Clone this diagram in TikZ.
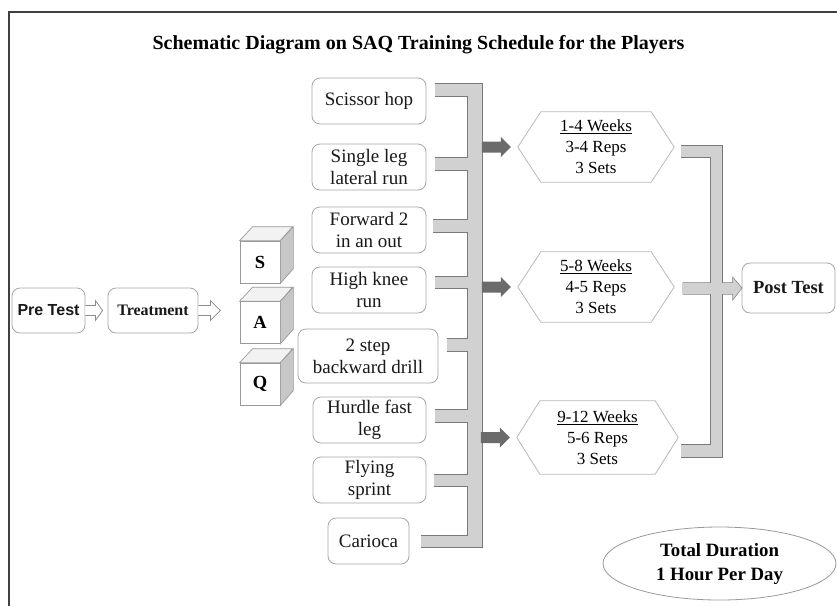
\documentclass[tikz,border=0pt]{standalone}
\usepackage{fontspec}
\setmainfont{Liberation Serif}
\newfontfamily\arialfont{Liberation Sans}
\usetikzlibrary{calc,shapes.geometric}
\tikzset{
  frameline/.style={draw=black!75, line width=1.3pt},
  titletext/.style={font=\bfseries\fontsize{20}{23}\selectfont, inner sep=0pt},
  box/.style={draw=black!35, line width=0.8pt, rounded corners=8pt, fill=white, align=center, inner sep=0pt, text=black!90, font=\fontsize{19}{22}\selectfont},
  boldbox/.style={box, font=\bfseries\fontsize{16}{19}\selectfont},
  cubefront/.style={draw=black!40, line width=0.7pt, fill=white, minimum width=40pt, minimum height=42pt, inner sep=0pt, font=\bfseries\fontsize{18.5}{21}\selectfont},
  cubetop/.style={draw=black!40, line width=0.7pt, fill=black!5},
  cubeside/.style={draw=black!40, line width=0.7pt, fill=black!22},
  hollowarrow/.style={draw=black!45, line width=0.8pt, fill=white},
  bracketout/.style={draw=black!52, line width=1.3pt},
  bracketin/.style={fill=black!18},
  darkarrow/.style={fill=black!58},
  hexnode/.style={inner sep=0pt, align=center, minimum height=70pt, font=\fontsize{17}{21}\selectfont},
  hexline/.style={draw=black!28, line width=0.8pt},
  durnode/.style={ellipse, draw=black!40, line width=0.8pt, inner sep=0pt, minimum width=233pt, minimum height=73pt, align=center, font=\bfseries\fontsize{18.8}{24}\selectfont}
}
\begin{document}
\begin{tikzpicture}[x=1pt,y=-1pt]
\useasboundingbox (0,0) rectangle (837,606);
\draw[frameline] (9,606) -- (9,12) -- (837,12);
\node[titletext] (title) at (418.5,45) {Schematic Diagram on SAQ Training Schedule for the Players};

% Pre test and treatment
\node[boldbox, minimum width=73pt, minimum height=45pt, font=\arialfont\bfseries\fontsize{16}{19}\selectfont] (pre) at (48.5,310.5) {Pre Test};
\node[boldbox, minimum width=90pt, minimum height=45pt] (treat) at (153,310.5) {Treatment};
\filldraw[hollowarrow] ($(pre.east)+(0,-5)$) -- ($(pre.east)+(10,-5)$) -- ($(pre.east)+(10,-10)$) -- ($(treat.west)+(-5,0)$) -- ($(pre.east)+(10,10)$) -- ($(pre.east)+(10,5)$) -- ($(pre.east)+(0,5)$);
\coordinate (treattip) at ($(treat.east)+(22,0)$);
\filldraw[hollowarrow] ($(treat.east)+(0,-5)$) -- ($(treat.east)+(12,-5)$) -- ($(treat.east)+(12,-10)$) -- (treattip) -- ($(treat.east)+(12,10)$) -- ($(treat.east)+(12,5)$) -- ($(treat.east)+(0,5)$);

% cubes
\foreach \n/\y in {S/262,A/322.5,Q/384}{
  \node[cubefront] (\n) at (260,\y) {\n};
  \filldraw[cubetop] (\n.north west) -- ++(13,-14) -- ++(40,0) -- (\n.north east) -- cycle;
  \filldraw[cubeside] (\n.north east) -- ++(13,-14) -- ++(0,42) -- (\n.south east) -- cycle;
}

% exercises
\node[box, minimum width=114pt, minimum height=46pt] (e1) at (369,101) {Scissor hop};
\node[box, minimum width=114pt, minimum height=46pt] (e2) at (369,167) {Single leg\\lateral run};
\node[box, minimum width=114pt, minimum height=46pt] (e3) at (369,230) {Forward 2\\in an out};
\node[box, minimum width=114pt, minimum height=46pt] (e4) at (369,290) {High knee\\run};
\node[box, minimum width=140pt, minimum height=54pt] (e5) at (368,356) {2 step\\backward drill};
\node[box, minimum width=113pt, minimum height=46pt] (e6) at (369.5,420) {Hurdle fast\\leg};
\node[box, minimum width=113pt, minimum height=46pt] (e7) at (369.5,480) {Flying\\sprint};
\node[box, minimum width=81pt, minimum height=46pt] (e8) at (368.5,541) {Carioca};

% hexagons
\node[hexnode, minimum width=156pt] (h1) at (596,147) {\underline{1-4 Weeks}\\3-4 Reps\\3 Sets};
\node[hexnode, minimum width=156pt] (h2) at (596,287) {\underline{5-8 Weeks}\\4-5 Reps\\3 Sets};
\node[hexnode, minimum width=161pt, minimum height=73pt] (h3) at (597.5,437.5) {\underline{9-12 Weeks}\\5-6 Reps\\3 Sets};
\foreach \h in {h1,h2,h3}{
  \draw[hexline] (\h.west) -- ($(\h.north west)+(23,0)$) -- ($(\h.north east)+(-23,0)$) -- (\h.east) -- ($(\h.south east)+(-23,0)$) -- ($(\h.south west)+(23,0)$) -- cycle;
}

% post test
\node[box, minimum width=93pt, minimum height=50pt, font=\bfseries\fontsize{18.5}{21}\selectfont] (post) at (788.5,288) {Post Test};

% left bracket
\foreach \n/\g/\d/\b in {e1/9/-17/96,e2/9/-9/170,e3/7/-10/232,e4/9/-13/288,e5/9/-17/351,e6/9/-10/422,e7/8/-5/486,e8/12/-5/547}{
  \draw[bracketout] ($(\n.east)+(\g,\d)$) rectangle (482,\b);
}
\draw[bracketout] (468,84) rectangle (482,547);
\foreach \n/\g/\d/\b in {e1/9/-17/96,e2/9/-9/170,e3/7/-10/232,e4/9/-13/288,e5/9/-17/351,e6/9/-10/422,e7/8/-5/486,e8/12/-5/547}{
  \fill[bracketin] ($(\n.east)+(\g,\d)$) rectangle (482,\b);
}
\fill[bracketin] (468,84) rectangle (482,547);

% dark arrows
\foreach \h in {h1,h2,h3}{
  \fill[darkarrow] ($(\h.west)+(-36,-5.5)$) -- ($(\h.west)+(-17,-5.5)$) -- ($(\h.west)+(-17,-10)$) -- ($(\h.west)+(-7,0)$) -- ($(\h.west)+(-17,10)$) -- ($(\h.west)+(-17,5.5)$) -- ($(\h.west)+(-36,5.5)$) -- cycle;
}

% right bracket
\draw[bracketout] ($(h1.east)+(7,-1)$) rectangle (722,157);
\draw[bracketout] ($(h3.east)+(3,7.5)$) rectangle (722,457);
\draw[bracketout] (711,146) rectangle (722,457);
\draw[bracketout] ($(h2.east)+(9,-4)$) -- (733,283) -- (733,278) -- (post.west) -- (733,299) -- (733,294) -- ($(h2.east)+(9,7)$) -- cycle;
\fill[bracketin] ($(h1.east)+(7,-1)$) rectangle (722,157);
\fill[bracketin] ($(h3.east)+(3,7.5)$) rectangle (722,457);
\fill[bracketin] (711,146) rectangle (722,457);
\fill[bracketin] ($(h2.east)+(9,-4)$) -- (733,283) -- (733,278) -- (post.west) -- (733,299) -- (733,294) -- ($(h2.east)+(9,7)$) -- cycle;

% duration
\node[durnode] (dur) at (719.5,563.5) {Total Duration\\1 Hour Per Day};
\end{tikzpicture}
\end{document}
